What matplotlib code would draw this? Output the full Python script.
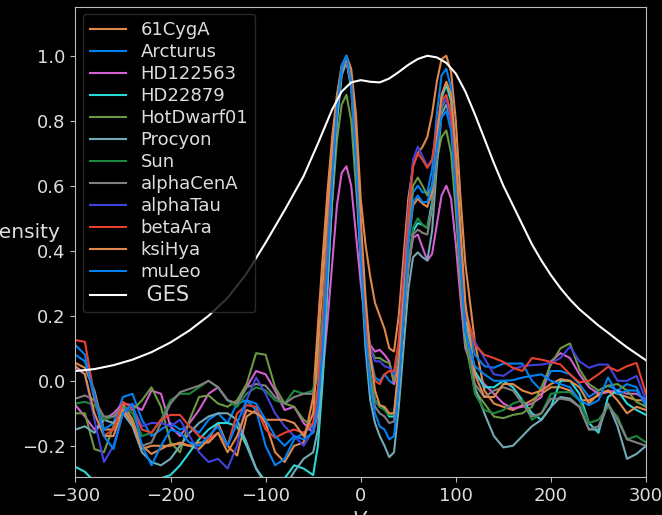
"""Line profiles of 12 stars vs the GES template, dark theme."""

import matplotlib

matplotlib.use("Agg")
import matplotlib.pyplot as plt
import numpy as np

_BG = "black"
_TEXT = "#dddddd"
_SPINE = "#bbbbbb"

# velocity sampling: coarse in the wings, finer across the two peaks
V_LEFT = np.arange(-300, -49, 10)
V_CORE = np.arange(-45, 111, 5)
V_RIGHT = np.arange(120, 301, 10)
V = np.concatenate([V_LEFT, V_CORE, V_RIGHT])

cyg61 = [0.055, 0.04, -0.03, -0.15, -0.15, -0.07, -0.12, -0.2, -0.225, -0.21, -0.195, -0.195, -0.2,
         -0.21, -0.18, -0.13, -0.2, -0.23, -0.11, -0.09, -0.13, -0.22, -0.25, -0.2, -0.19, -0.05,
         0.17, 0.38, 0.58, 0.75, 0.88, 0.97, 1.0, 0.96, 0.82, 0.56, 0.42, 0.32, 0.24, 0.2, 0.16, 0.1,
         0.09, 0.2, 0.38, 0.56, 0.66, 0.7, 0.72, 0.75, 0.82, 0.92, 0.99, 1.0, 0.95, 0.8, 0.56, 0.36,
         0.12, -0.03, -0.07, -0.08, -0.09, -0.075, -0.06, -0.04, -0.02, -0.02, -0.03, -0.06, -0.06,
         -0.045, -0.03, -0.04, -0.05, -0.06, -0.06]
arcturus = [0.11, 0.08, -0.06, -0.15, -0.13, -0.05, -0.04, -0.12, -0.17, -0.15, -0.13, -0.15, -0.14,
            -0.16, -0.12, -0.1, -0.13, -0.07, -0.06, -0.09, -0.2, -0.26, -0.24, -0.18, -0.16, -0.14,
            -0.03, 0.15, 0.4, 0.65, 0.85, 0.97, 1.0, 0.93, 0.72, 0.45, 0.22, 0.08, 0.01, 0.0, 0.02, 0.0,
            -0.01, 0.1, 0.28, 0.46, 0.58, 0.6, 0.58, 0.58, 0.65, 0.82, 0.94, 0.96, 0.9, 0.7, 0.45, 0.22,
            0.08, 0.045, 0.04, 0.053, 0.053, 0.053, 0.0, -0.03, 0.03, 0.03, 0.02, -0.01, -0.05,
            -0.03, -0.015, -0.03, -0.01, -0.02, -0.08]
hd122563 = [-0.075, -0.11, -0.15, -0.12, -0.1, -0.07, -0.075, -0.09, -0.03, -0.04, -0.14, -0.17, -0.13,
            -0.09, -0.04, -0.02, -0.06, -0.07, -0.02, 0.03, 0.02, -0.03, -0.09, -0.08, -0.13, -0.16,
            -0.1, 0.02, 0.18, 0.36, 0.54, 0.64, 0.66, 0.6, 0.45, 0.3, 0.18, 0.11, 0.09, 0.095, 0.08, 0.06,
            -0.01, 0.05, 0.2, 0.35, 0.44, 0.45, 0.41, 0.37, 0.39, 0.48, 0.57, 0.6, 0.56, 0.42, 0.25, 0.1,
            0.02, -0.01, -0.04, -0.07, -0.085, -0.08, -0.07, -0.05, 0.06, 0.085, 0.07, 0.02, -0.02,
            -0.04, -0.035, -0.03, -0.04, -0.04, -0.06]
hd22879 = [-0.265, -0.28, -0.31, -0.33, -0.33, -0.32, -0.31, -0.31, -0.31, -0.3, -0.29, -0.26, -0.22,
           -0.18, -0.15, -0.13, -0.13, -0.14, -0.2, -0.27, -0.31, -0.32, -0.3, -0.26, -0.27, -0.29,
           -0.2, 0.0, 0.28, 0.56, 0.8, 0.95, 0.99, 0.92, 0.7, 0.42, 0.18, 0.02, -0.06, -0.08, -0.085,
           -0.11, -0.11, 0.02, 0.2, 0.36, 0.46, 0.485, 0.48, 0.47, 0.55, 0.72, 0.87, 0.91, 0.86, 0.66,
           0.42, 0.2,
           0.03, -0.02, -0.02, 0.0, -0.02, -0.06, -0.1, -0.12, -0.08, 0.0, 0.0, -0.04, -0.13, -0.16,
           -0.05, -0.03, -0.07, -0.09, -0.105]
hotdwarf01 = [-0.1, -0.1, -0.21, -0.22, -0.14, -0.08, -0.09, -0.06, -0.02, -0.08, -0.19, -0.22, -0.12,
              -0.05, -0.045, -0.07, -0.08, -0.06, -0.01, 0.085, 0.08, -0.02, -0.07, -0.08, -0.12, -0.14,
              -0.06, 0.1, 0.33, 0.55, 0.74, 0.85, 0.88, 0.8, 0.6, 0.38, 0.2, 0.1, 0.07, 0.07, 0.06, 0.055,
              0.0, 0.1, 0.28, 0.46, 0.6, 0.625, 0.6, 0.57, 0.6, 0.68, 0.75, 0.77, 0.7, 0.52, 0.3, 0.12,
              -0.03, -0.07, -0.11, -0.115, -0.105, -0.1, -0.08, -0.02, 0.05, 0.1, 0.115, 0.035, -0.01,
              -0.03, -0.015, -0.01, -0.03, -0.065, -0.08]
procyon = [-0.15, -0.14, -0.16, -0.12, -0.13, -0.1, -0.14, -0.22, -0.25, -0.26, -0.24, -0.2, -0.16,
           -0.13, -0.11, -0.1, -0.1, -0.12, -0.19, -0.27, -0.32, -0.34, -0.33, -0.28, -0.24, -0.22,
           -0.15, 0.05, 0.3, 0.57, 0.8, 0.94, 0.98, 0.9, 0.66, 0.36, 0.1, -0.06, -0.13, -0.17, -0.2,
           -0.235, -0.22, -0.08, 0.1, 0.28, 0.38, 0.395, 0.38, 0.37, 0.46, 0.66, 0.82, 0.85, 0.8, 0.6,
           0.36, 0.14,
           -0.02, -0.1, -0.17, -0.205, -0.2, -0.17, -0.14, -0.12, -0.08, -0.05, -0.055, -0.08, -0.15,
           -0.15, -0.07, -0.14, -0.24, -0.225, -0.2]
sun = [-0.07, -0.065, -0.075, -0.12, -0.11, -0.08, -0.1, -0.17, -0.16, -0.12, -0.06, -0.04, -0.04,
       -0.02, 0.0, -0.02, -0.06, -0.08, -0.04, -0.02, -0.03, -0.06, -0.07, -0.03, -0.04, -0.03,
       0.05, 0.2, 0.43, 0.67, 0.86, 0.96, 0.99, 0.92, 0.7, 0.42, 0.18, 0.02, -0.06, -0.08, -0.09, -0.105,
       -0.1, 0.03, 0.2, 0.36, 0.47, 0.5, 0.48, 0.47, 0.53, 0.7, 0.84, 0.87, 0.82, 0.62, 0.38, 0.16,
       -0.04, -0.09, -0.1, -0.09, -0.07, -0.06, -0.12, -0.1, -0.04, -0.035, -0.035, -0.06, -0.13,
       -0.12, -0.08, -0.11, -0.18, -0.17, -0.19]
alpha_cen_a = [-0.055, -0.045, -0.06, -0.11, -0.11, -0.08, -0.13, -0.2, -0.19, -0.13, -0.07, -0.035,
               -0.025, -0.015, 0.0, -0.02, -0.06, -0.07, -0.02, -0.01, -0.015, -0.05, -0.07, -0.05,
               -0.04, -0.04,
               0.02, 0.18, 0.42, 0.66, 0.85, 0.96, 0.99, 0.92, 0.69, 0.4, 0.16, 0.0, -0.08, -0.1, -0.11,
               -0.13, -0.125, 0.0, 0.18, 0.34, 0.45, 0.465, 0.455, 0.45, 0.53, 0.7, 0.84, 0.87, 0.82,
               0.62, 0.38, 0.17,
               -0.01, -0.05, -0.03, -0.02, -0.03, -0.07, -0.11, -0.1, -0.055, -0.055, -0.06, -0.08,
               -0.15, -0.14, -0.07, -0.12, -0.18, -0.19, -0.2]
alpha_tau = [0.04, 0.02, -0.12, -0.25, -0.2, -0.1, -0.08, -0.14, -0.13, -0.13, -0.14, -0.12, -0.17,
             -0.22, -0.25, -0.24, -0.27, -0.2, -0.06, 0.01, -0.04, -0.1, -0.14, -0.17, -0.2, -0.15,
             -0.05, 0.12, 0.38, 0.63, 0.84, 0.96, 0.99, 0.92, 0.7, 0.44, 0.22, 0.1, 0.06, 0.06, 0.045,
             0.04, 0.02, 0.12, 0.32, 0.52, 0.68, 0.72, 0.69, 0.66, 0.68, 0.76, 0.85, 0.87, 0.8, 0.62,
             0.4, 0.2,
             0.12, 0.07, 0.02, 0.015, 0.035, 0.045, 0.048, 0.05, 0.055, 0.07, 0.105, 0.06, 0.04, 0.05,
             0.05, 0.0, 0.0, 0.015, -0.06]
beta_ara = [0.125, 0.12, -0.05, -0.17, -0.15, -0.065, -0.085, -0.15, -0.16, -0.12, -0.105, -0.105,
            -0.14, -0.17, -0.18, -0.16, -0.2, -0.1, -0.075, -0.08, -0.15, -0.175, -0.16, -0.15, -0.16,
            -0.13,
            -0.02, 0.15, 0.4, 0.65, 0.85, 0.96, 0.99, 0.92, 0.7, 0.43, 0.2, 0.07, 0.0, -0.01, 0.02, 0.03,
            0.03, 0.12, 0.3, 0.5, 0.66, 0.7, 0.68, 0.655, 0.68, 0.78, 0.86, 0.88, 0.82, 0.65, 0.42, 0.22,
            0.11, 0.08, 0.07, 0.058, 0.04, 0.03, 0.07, 0.065, 0.058, 0.05, 0.02, -0.005, 0.0, 0.02,
            0.043, 0.03, 0.045, 0.055, -0.04]
ksi_hya = [0.045, 0.02, -0.1, -0.17, -0.17, -0.09, -0.13, -0.21, -0.2, -0.2, -0.2, -0.19, -0.2, -0.19,
           -0.19, -0.16, -0.22, -0.17, -0.09, -0.1, -0.12, -0.12, -0.12, -0.13, -0.17, -0.1,
           0.1, 0.3, 0.52, 0.72, 0.87, 0.96, 0.99, 0.94, 0.76, 0.5, 0.26, 0.08, -0.03, -0.075, -0.08,
           -0.1, -0.1, 0.05, 0.25, 0.42, 0.54, 0.56, 0.545, 0.535, 0.58, 0.74, 0.88, 0.92, 0.88, 0.7,
           0.46, 0.24,
           0.02, -0.05, -0.05, -0.01, -0.01, -0.03, -0.04, -0.03, -0.01, 0.005, 0.0, -0.02, -0.07,
           -0.04, -0.03, -0.06, -0.1, -0.08, -0.09]
mu_leo = [0.08, 0.06, -0.04, -0.17, -0.21, -0.1, -0.07, -0.2, -0.26, -0.2, -0.15, -0.16, -0.19, -0.2,
          -0.17, -0.14, -0.2, -0.13, -0.06, -0.07, -0.12, -0.17, -0.2, -0.17, -0.18, -0.16,
          -0.08, 0.1, 0.36, 0.62, 0.84, 0.96, 1.0, 0.92, 0.68, 0.38, 0.14, -0.02, -0.1, -0.14, -0.15,
          -0.18, -0.17, -0.02, 0.2, 0.42, 0.55, 0.57, 0.55, 0.55, 0.6, 0.72, 0.81, 0.83, 0.77, 0.58,
          0.35, 0.15,
          0.045, 0.02, 0.0, 0.0, 0.002, 0.01, 0.015, 0.02, 0.0, -0.01, -0.02, -0.06, -0.075, -0.06,
          0.01, -0.04, -0.03, -0.03, -0.07]

# broad template profile
V_GES = [-300, -280, -260, -240, -220, -200, -180, -160, -140, -120, -100, -80, -60, -45, -30, -20,
         -10, 0, 10, 20, 30, 40, 50, 60, 70, 80, 90, 100, 110, 120, 130, 140, 150, 160, 170, 180,
         190, 200, 210, 220, 230, 240, 250, 260, 270, 280, 290, 300]
ges = [0.03, 0.036, 0.048, 0.065, 0.088, 0.118, 0.155, 0.2, 0.255, 0.33, 0.425, 0.525, 0.63, 0.73,
       0.835, 0.89, 0.918, 0.925, 0.92, 0.918, 0.93, 0.95, 0.972, 0.99, 1.0, 0.995, 0.978, 0.945,
       0.89, 0.82, 0.745, 0.67, 0.6, 0.54, 0.48, 0.42, 0.37, 0.325, 0.285, 0.25, 0.22, 0.195, 0.17,
       0.148, 0.125, 0.103, 0.083, 0.063]

labels = ["61CygA", "Arcturus", "HD122563", "HD22879", "HotDwarf01", "Procyon", "Sun",
          "alphaCenA", "alphaTau", "betaAra", "ksiHya", "muLeo"]
colors = ["#e0884b", "#0080f1", "#d35fd3", "#29d8d7", "#6b9842", "#73a9b4", "#1c883d",
          "#808080", "#4342dd", "#e84130", "#e0884b", "#0080f1"]
series = [cyg61, arcturus, hd122563, hd22879, hotdwarf01, procyon, sun,
          alpha_cen_a, alpha_tau, beta_ara, ksi_hya, mu_leo]

plt.rcParams["font.size"] = 13

fig = plt.figure(figsize=(6.62, 5.15), dpi=100)
fig.patch.set_facecolor(_BG)
ax = fig.add_axes([0.1139, 0.0738, 0.862, 0.9126])
ax.set_facecolor(_BG)

for label, color, vals in zip(labels, colors, series):
    ax.plot(V, vals, color=color, lw=1.5, label=label)
ax.plot(V_GES, ges, color="white", lw=1.5, label=" GES")

ax.set_xlim(-300, 300)
ax.set_ylim(-0.296, 1.15)
ax.set_xticks([-300, -200, -100, 0, 100, 200, 300])
ax.set_yticks([-0.2, 0.0, 0.2, 0.4, 0.6, 0.8, 1.0])

for side in ax.spines.values():
    side.set_color(_SPINE)
ax.tick_params(colors=_TEXT, labelsize=13)
ax.tick_params(axis="both", color=_SPINE)

ax.set_xlabel("$V$", color=_TEXT, fontsize=14)
ax.set_ylabel("Intensity", color=_TEXT, rotation=0, ha="right", va="center", fontsize=14.5)
ax.yaxis.set_label_coords(-0.027, 0.52)

leg = ax.legend(loc="upper left", fontsize=13, facecolor=_BG, edgecolor="#333333",
                framealpha=0.8, labelspacing=0.22, borderaxespad=0.4)
for txt in leg.get_texts():
    txt.set_color(_TEXT)
leg.get_texts()[-1].set_fontsize(15)

fig.savefig("out.png", dpi=100, facecolor=fig.get_facecolor())
plt.close(fig)
